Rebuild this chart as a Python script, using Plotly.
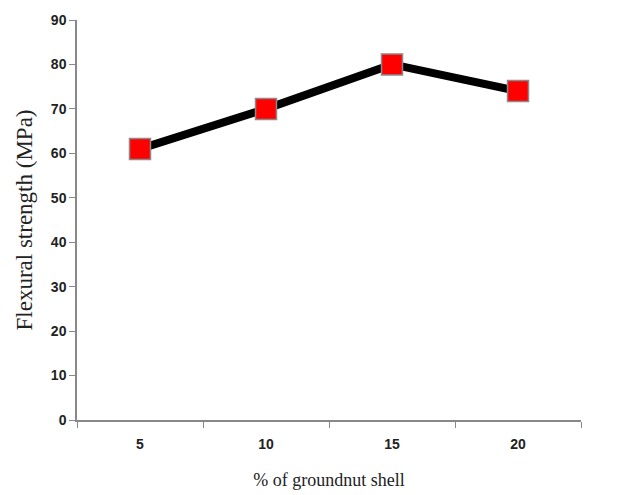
import plotly.graph_objects as go

categories = ["5", "10", "15", "20"]
strength = [61, 70, 80, 74]
y_ticks = [0, 10, 20, 30, 40, 50, 60, 70, 80, 90]

fig = go.Figure()
fig.add_trace(go.Scatter(
    x=categories, y=strength, mode="lines+markers",
    line=dict(color="black", width=8),
    marker=dict(symbol="square", size=21, color="#ff0000",
                line=dict(color="#8a8a8a", width=1.5)),
    showlegend=False,
))

fig.update_layout(
    width=622, height=495,
    margin=dict(l=77, r=41, t=20, b=75),
    plot_bgcolor="white", paper_bgcolor="white",
    xaxis=dict(
        type="category", range=[-0.5, 3.5], tickson="boundaries",
        ticks="outside", ticklen=6, ticklabelstandoff=10,
        tickcolor="#888888", showline=True, linecolor="#888888", linewidth=1.5,
        showgrid=False, zeroline=False, automargin=False,
        tickfont=dict(family="Liberation Sans", size=14, color="#222222", weight="bold"),
        title=dict(text="% of groundnut shell",
                   font=dict(family="Liberation Serif", size=18, color="#222222"),
                   standoff=23),
    ),
    yaxis=dict(
        range=[0, 90], tickvals=y_ticks, ticks="outside", ticklen=6,
        tickcolor="#888888", showline=True, linecolor="#888888", linewidth=1.5,
        showgrid=False, zeroline=False, automargin=False,
        tickfont=dict(family="Liberation Sans", size=14, color="#222222", weight="bold"),
        title=dict(text="Flexural strength (MPa)",
                   font=dict(family="Liberation Serif", size=23, color="#222222"),
                   standoff=12),
    ),
)

fig.write_html("out.html", config={"displayModeBar": False},
               post_script="document.body.style.margin='0';document.body.style.overflow='hidden';")
